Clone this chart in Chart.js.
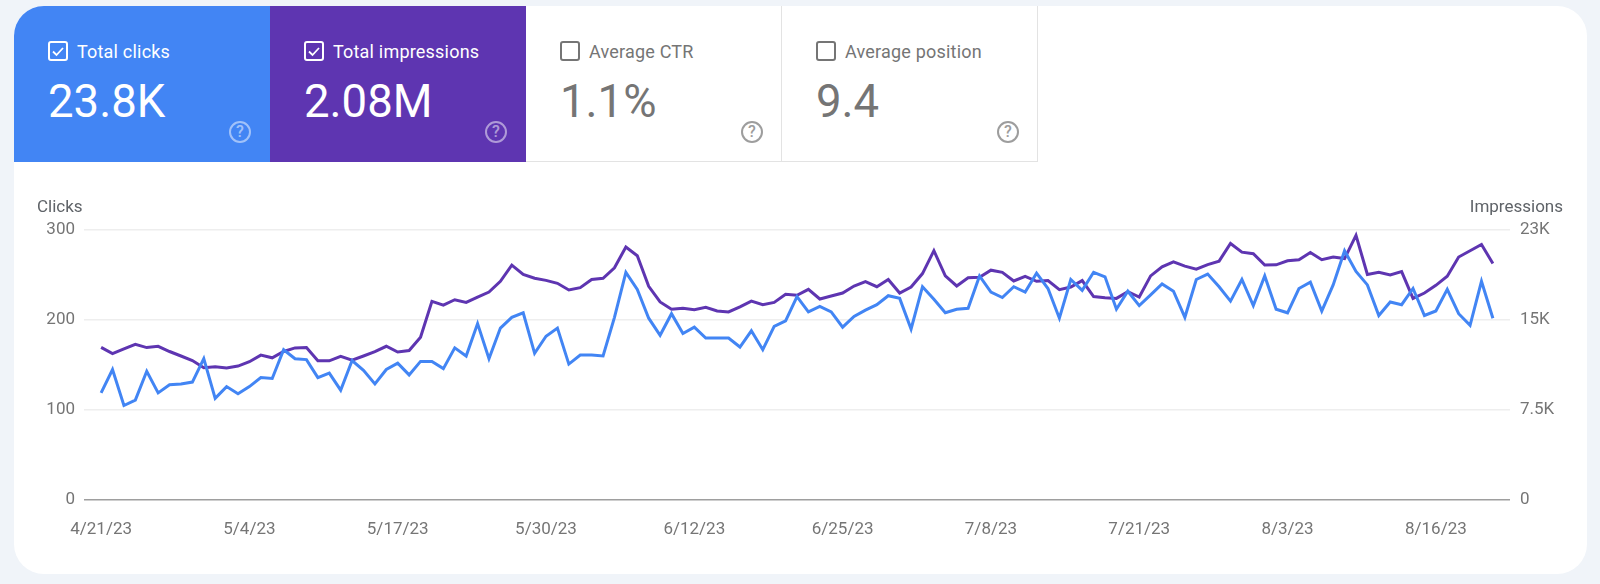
<!DOCTYPE html>
<html>
<head>
<meta charset="utf-8">
<title>Performance</title>
<script src="https://cdn.jsdelivr.net/npm/chart.js@4"></script>
<style>
    html, body { margin: 0; padding: 0; width: 1600px; height: 584px; overflow: hidden; background: #f0f4f9; font-family: Roboto, sans-serif; }
    .panel { position: absolute; left: 14px; top: 6px; width: 1573px; height: 568px; background: #fff; border-radius: 30px; overflow: hidden; }
    #myChart { position: absolute; left: 0; top: 0; }
    .card { position: absolute; top: 6px; width: 256px; height: 156px; box-sizing: border-box; color: #fff; }
    .card.blue { left: 14px; background: #4285f4; border-top-left-radius: 30px; }
    .card.purple { left: 270px; background: #5e35b1; }
    .card.off { color: #757575; border-right: 1.5px solid #e3e3e3; border-bottom: 1.5px solid #e3e3e3; background: #fff; }
    .card svg { position: absolute; left: 34px; top: 35px; }
    .card .name { position: absolute; left: 63px; top: 33px; font-size: 18px; letter-spacing: .2px; line-height: 26px; white-space: nowrap; }
    .card .value { position: absolute; left: 34px; top: 66px; font-size: 45.5px; line-height: 60px; white-space: nowrap; }
    .card .help { position: absolute; left: 215px; top: 115px; width: 18px; height: 18px; border: 2px solid currentColor; border-radius: 50%; font-size: 16px; font-weight: 500; line-height: 18px; text-align: center; opacity: .5; }
    .card.off .help { opacity: .7; }
    .axis-name { position: absolute; top: 196px; font-size: 17px; line-height: 20px; color: #5f6368; }
</style>
</head>
<body>
<div class="panel"></div>
<canvas id="myChart" width="1600" height="584"></canvas>
<div id="cards"></div>
<div class="axis-name" style="left:37px">Clicks</div>
<div class="axis-name" style="right:37px">Impressions</div>

<script>
// Datos
const fechas = ['4/21/23', '5/4/23', '5/17/23', '5/30/23', '6/12/23', '6/25/23', '7/8/23', '7/21/23', '8/3/23', '8/16/23'];
const diasEntreFechas = 13;
const ticksClicks = ['0', '100', '200', '300'];
const ticksImpresiones = ['0', '7.5K', '15K', '23K'];

const clicks = [
    119, 145, 105, 111, 143, 119, 128, 129, 131, 157,
    113, 126, 118, 126, 136, 135, 167, 157, 156, 136,
    141, 122, 155, 144, 129, 145, 152, 139, 154, 154,
    146, 169, 160, 196, 157, 191, 203, 208, 163, 182,
    191, 151, 161, 161, 160, 203, 253, 234, 202, 183,
    207, 185, 192, 180, 180, 180, 170, 188, 167, 193,
    199, 226, 209, 215, 209, 192, 204, 211, 217, 227,
    224, 190, 237, 223, 208, 212, 213, 249, 231, 225,
    237, 231, 252, 235, 202, 245, 233, 253, 248, 212,
    232, 216, 228, 240, 232, 203, 245, 251, 237, 221,
    245, 216, 249, 212, 208, 235, 242, 210, 239, 277,
    254, 239, 205, 220, 217, 235, 205, 210, 234, 207,
    194, 243, 202
];
const impresiones = [
    12720, 12195, 12600, 12975, 12700, 12810, 12375, 12000, 11625, 11025,
    11100, 10995, 11160, 11520, 12075, 11850, 12375, 12675, 12700, 11600,
    11600, 11970, 11660, 12000, 12360, 12810, 12330, 12450, 13560, 16550,
    16245, 16690, 16470, 16910, 17325, 18225, 19575, 18790, 18480, 18300,
    18060, 17500, 17700, 18375, 18480, 19350, 21075, 20350, 17805, 16500,
    15900, 15975, 15855, 16050, 15750, 15675, 16100, 16575, 16275, 16470,
    17140, 17055, 17550, 16750, 16995, 17250, 17835, 18195, 17775, 18375,
    17250, 17750, 18870, 20775, 18675, 17835, 18525, 18560, 19150, 18975,
    18255, 18645, 18225, 18285, 17530, 17750, 18285, 16950, 16860, 16800,
    17360, 16910, 18675, 19425, 19845, 19485, 19230, 19620, 19905, 21375,
    20655, 20520, 19575, 19600, 19930, 20025, 20625, 20025, 20250, 20120,
    22050, 18790, 18975, 18750, 19035, 16800, 17250, 17890, 18645, 20250,
    20775, 21300, 19710
];

// Tarjetas de metricas
const nombresTarjetas = ['Total clicks', 'Total impressions', 'Average CTR', 'Average position'];
const valoresTarjetas = ['23.8K', '2.08M', '1.1%', '9.4'];
const clasesTarjetas = ['blue', 'purple', 'off', 'off'];

const contenedor = document.getElementById('cards');
nombresTarjetas.forEach(function(nombre, i) {
    const marcada = i < 2;
    const check = marcada ? '<path d="M5 10.5l3.5 3.5 6.5-7" fill="none" stroke="currentColor" stroke-width="1.8"/>' : '';
    const tarjeta = document.createElement('div');
    tarjeta.className = 'card ' + clasesTarjetas[i];
    tarjeta.style.left = (14 + i * 256) + 'px';
    tarjeta.innerHTML = `
        <svg width="20" height="20" viewBox="0 0 20 20"><rect x="1" y="1" width="18" height="18" rx="2" fill="none" stroke="currentColor" stroke-width="2"/>${check}</svg>
        <div class="name">${nombre}</div>
        <div class="value">${valoresTarjetas[i]}</div>
        <div class="help">?</div>`;
    contenedor.appendChild(tarjeta);
});

const puntos = function(serie) {
    return serie.map(function(v, i) { return { x: i, y: v }; });
};

const fuente = { family: 'Roboto', size: 17 };

new Chart(document.getElementById('myChart'), {
    type: 'line',
    data: {
        datasets: [{
            label: 'Clicks',
            data: puntos(clicks),
            yAxisID: 'y',
            borderColor: '#4285f4',
            borderWidth: 3,
            pointRadius: 0,
            tension: 0
        }, {
            label: 'Impressions',
            data: puntos(impresiones),
            yAxisID: 'y1',
            borderColor: '#5e35b1',
            borderWidth: 3,
            pointRadius: 0,
            tension: 0
        }]
    },
    options: {
        responsive: false,
        animation: false,
        layout: { padding: { top: 230, bottom: 30 } },
        plugins: { legend: { display: false }, tooltip: { enabled: false } },
        scales: {
            x: {
                type: 'linear',
                min: -1.5,
                max: 123.5,
                grid: { display: false },
                border: { display: false },
                afterBuildTicks: function(scale) {
                    scale.ticks = fechas.map(function(_, i) { return { value: i * diasEntreFechas }; });
                },
                afterFit: function(scale) { scale.height = 54; },
                ticks: {
                    autoSkip: false,
                    maxRotation: 0,
                    padding: 12,
                    color: '#757575',
                    font: fuente,
                    callback: function(value) { return fechas[value / diasEntreFechas]; }
                }
            },
            y: {
                position: 'left',
                min: 0,
                max: 300,
                afterFit: function(scale) { scale.width = 84; },
                border: { display: false },
                grid: {
                    drawTicks: false,
                    lineWidth: 1.5,
                    color: function(context) { return context.tick.value === 0 ? '#9e9e9e' : '#eeeeee'; }
                },
                ticks: {
                    stepSize: 100,
                    padding: 9,
                    color: '#757575',
                    font: fuente,
                    callback: function(value) { return ticksClicks[value / 100]; }
                }
            },
            y1: {
                position: 'right',
                min: 0,
                max: 22500,
                afterFit: function(scale) { scale.width = 90; },
                border: { display: false },
                grid: { display: false, drawOnChartArea: false },
                ticks: {
                    stepSize: 7500,
                    padding: 2,
                    color: '#757575',
                    font: fuente,
                    callback: function(value) { return ticksImpresiones[value / 7500]; }
                }
            }
        }
    }
});
</script>
</body>
</html>
